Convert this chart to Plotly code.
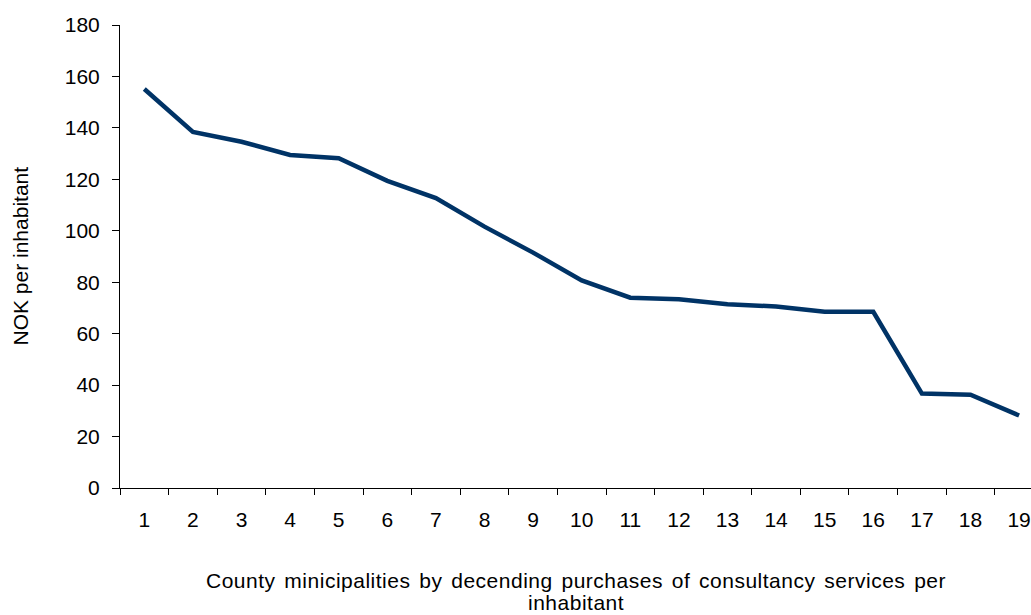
import plotly.graph_objects as go

categories = [str(i) for i in range(1, 20)]
values = [155.1, 138.4, 134.6, 129.5, 128.2, 119.4, 112.7, 101.6, 91.5, 80.7,
          74.0, 73.4, 71.4, 70.6, 68.5, 68.5, 36.7, 36.3, 28.2]
y_ticks = list(range(0, 181, 20))
x_title_lines = ["County minicipalities by decending purchases of consultancy services per",
                 "inhabitant"]
y_title = "NOK per inhabitant"

FONT = "Liberation Sans, Arial, sans-serif"
FS = 21

fig = go.Figure()
fig.add_trace(go.Scatter(
    x=categories, y=values, mode="lines",
    line=dict(color="#003366", width=4.5),
    hoverinfo="skip", showlegend=False,
))

fig.update_layout(
    width=1031, height=615,
    margin=dict(l=120, r=0, t=25, b=126.5),
    paper_bgcolor="white", plot_bgcolor="white",
    font=dict(family=FONT, size=FS, color="black"),
    showlegend=False,
)
fig.update_xaxes(
    type="category", range=[-0.5, 18.245],
    tickson="boundaries", ticks="outside", ticklen=6, tickcolor="black", tickwidth=1,
    showline=True, linecolor="black", linewidth=1,
    showgrid=False, zeroline=False,
    tickfont=dict(size=FS, family=FONT, color="black"),
    ticklabelstandoff=13,
)
fig.update_yaxes(
    range=[0, 180], tickvals=y_ticks,
    ticks="outside", ticklen=7, tickcolor="black", tickwidth=1,
    showline=True, linecolor="black", linewidth=1,
    showgrid=False, zeroline=False,
    tickfont=dict(size=FS, family=FONT, color="black"),
    ticklabelstandoff=8,
)
for line_text, shift in zip(x_title_lines, [-92, -114]):
    fig.add_annotation(
        text='<span style="letter-spacing:0.5px;word-spacing:2.5px">' + line_text + '</span>',
        xref="paper", yref="paper", x=0.5, y=0,
        xanchor="center", yanchor="middle", yshift=shift, showarrow=False,
        font=dict(size=FS, family=FONT, color="black"),
    )
fig.add_annotation(
    text=y_title, xref="paper", yref="paper", x=0, y=0.5,
    xanchor="center", yanchor="middle", xshift=-100, textangle=-90, showarrow=False,
    font=dict(size=FS, family=FONT, color="black"),
)

fig.write_html("out.html", config={"displayModeBar": False})
